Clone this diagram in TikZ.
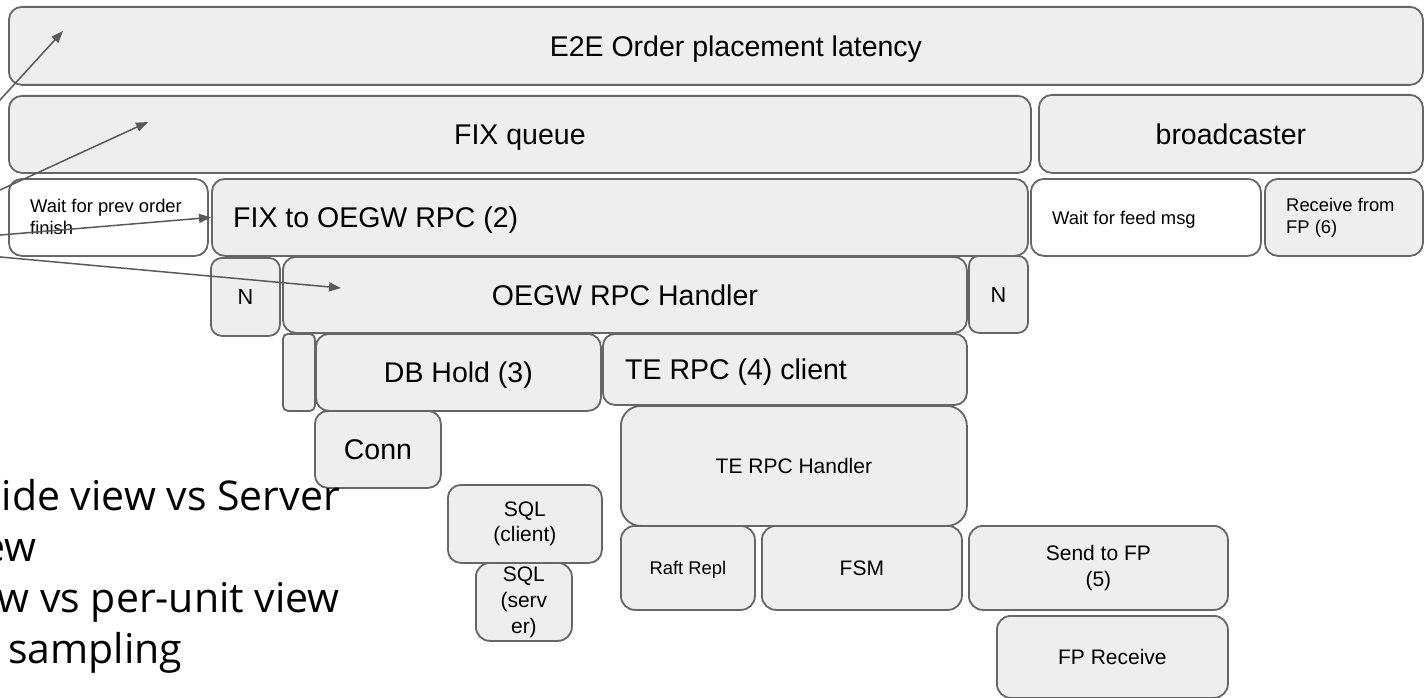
\documentclass[tikz,border=0pt]{standalone}
\usepackage{fontspec}
\setmainfont{Liberation Sans}
\newfontfamily\slidefont{Open Sans}
\usetikzlibrary{arrows.meta}
\definecolor{boxfill}{HTML}{EEEEEE}
\definecolor{boxline}{HTML}{666666}
\definecolor{arrowgray}{HTML}{595959}

\begin{document}
\begin{tikzpicture}[x=1pt,y=-1pt,
  box/.style={draw=boxline, line width=1.8pt, fill=boxfill, rectangle,
    inner sep=0pt, anchor=north west, text=black, align=center},
  wbox/.style={box, fill=white},
  % single lines are centred on their capitals
  big/.style={font=\fontsize{28.5}{34}\selectfont},
  bigc/.style={big, text height=20.4pt, text depth=0pt},
  mid/.style={font=\fontsize{21}{25.5}\selectfont},
  midc/.style={mid, text height=15pt, text depth=0pt},
  sml/.style={font=\fontsize{18.4}{22}\selectfont},
  smlc/.style={sml, text height=13.2pt, text depth=0pt},
  lbl/.style={inner sep=0pt, align=left, anchor=west},
  ptr/.style={draw=arrowgray, line width=1.5pt, -{Triangle[length=12pt,width=9pt]}},
  bullet/.style={font=\slidefont\fontsize{41}{49}\selectfont, inner sep=0pt, anchor=base east}]

\useasboundingbox (0,0) rectangle (1424,698);
\clip (0,0) rectangle (1424,698);

% top level spans
\node[box,minimum width=1414pt,minimum height=78pt,rounded corners=13pt] (e2e) at (8,6) {};
\node[bigc,inner sep=0pt] (e2e-t) at ([xshift=20pt]e2e.center) {E2E Order placement latency};
\node[box,bigc,minimum width=1022pt,minimum height=77pt,rounded corners=13pt] (fixq) at (8,95) {FIX queue};
\node[box,bigc,minimum width=384pt,minimum height=78pt,rounded corners=13pt] (bcast) at (1038,94) {broadcaster};

% FIX side
\node[wbox,minimum width=199pt,minimum height=77pt,rounded corners=13pt] (waitprev) at (8,178) {};
\node[lbl,sml] (waitprev-t) at ([xshift=22pt]waitprev.west) {Wait for prev order\\finish};
\node[box,minimum width=816pt,minimum height=77pt,rounded corners=13pt] (fix2oegw) at (211,178) {};
\node[lbl,bigc] (fix2oegw-t) at ([xshift=22pt]fix2oegw.west) {FIX to OEGW RPC (2)};

% broadcaster side
\node[wbox,minimum width=230pt,minimum height=77pt,rounded corners=13pt] (waitfeed) at (1030,178) {};
\node[lbl,smlc] (waitfeed-t) at ([xshift=22pt]waitfeed.west) {Wait for feed msg};
\node[box,minimum width=158pt,minimum height=77pt,rounded corners=13pt] (recvfp) at (1264,178) {};
\node[lbl,sml] (recvfp-t) at ([xshift=22pt]recvfp.west) {Receive from\\FP (6)};

% OEGW handler row
\node[box,font=\fontsize{21.7}{26}\selectfont,text height=15.5pt,text depth=0pt,minimum width=69pt,minimum height=78pt,rounded corners=11pt] (nl) at (210,257) {N};
\node[box,bigc,minimum width=684pt,minimum height=76pt,rounded corners=13pt] (oegw) at (282,256) {OEGW RPC Handler};
\node[box,font=\fontsize{21.7}{26}\selectfont,text height=15.5pt,text depth=0pt,minimum width=59pt,minimum height=77pt,rounded corners=10pt] (nr) at (968,255) {N};

% DB hold and TE client
\node[box,minimum width=32pt,minimum height=77pt,rounded corners=5pt] (gap) at (282,333) {};
\node[box,bigc,minimum width=285pt,minimum height=77pt,rounded corners=13pt] (dbhold) at (315,333) {DB Hold (3)};
\node[box,minimum width=364pt,minimum height=71pt,rounded corners=12pt] (teclient) at (602,333) {};
\node[lbl,bigc] (teclient-t) at ([xshift=23pt]teclient.west) {TE RPC (4) client};

% DB path
\node[box,bigc,minimum width=126pt,minimum height=77pt,rounded corners=13pt] (conn) at (314,410) {Conn};
\node[box,mid,minimum width=154pt,minimum height=78pt,rounded corners=13pt] (sqlc) at (447,484) {SQL\\(client)};
\node[box,font=\fontsize{21}{26}\selectfont,minimum width=96pt,minimum height=78pt,rounded corners=14pt] (sqls) at (475,562) {SQL\\(serv\\er)};

% TE path
\node[box,midc,minimum width=346pt,minimum height=120pt,rounded corners=20pt] (tehandler) at (620,405) {TE RPC Handler};
\node[box,smlc,minimum width=134pt,minimum height=84pt,rounded corners=14pt] (raft) at (620,525) {Raft Repl};
\node[box,midc,minimum width=200pt,minimum height=84pt,rounded corners=14pt] (fsm) at (761,525) {FSM};
\node[box,mid,minimum width=259pt,minimum height=84pt,rounded corners=14pt] (sendfp) at (968,525) {Send to FP\\(5)};
\node[box,midc,minimum width=231pt,minimum height=82pt,rounded corners=14pt] (fprecv) at (996,615) {FP Receive};

% side notes
\node[bullet] (b1) at (340,510) {ide view vs Server};
\node[bullet] (b2) at (37,561) {ew};
\node[bullet] (b3) at (340,612) {w vs per-unit view};
\node[bullet,anchor=base west] (b4) at (8,663) {sampling};

% pointers
\coordinate (src1) at (-15,116.4);
\coordinate (src2) at (-15,196.9);
\coordinate (src3) at (-15,236.3);
\coordinate (src4) at (-15,255.6);
\coordinate (tip1) at (63,31);
\coordinate (tip2) at (148,122);
\coordinate (tip4) at (341,288);
\draw[ptr] (src1) -- (tip1);
\draw[ptr] (src2) -- (tip2);
\draw[ptr] (src3) -- (fix2oegw.west);
\draw[ptr] (src4) -- (tip4);
\end{tikzpicture}
\end{document}
